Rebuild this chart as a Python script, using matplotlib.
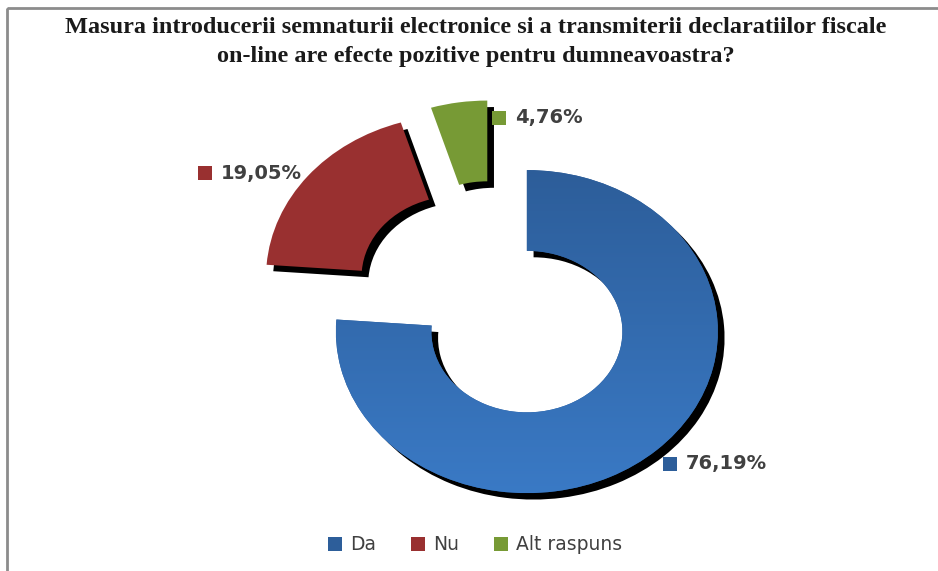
import numpy as np
import matplotlib.pyplot as plt
from matplotlib.colors import LinearSegmentedColormap
from matplotlib.patches import Rectangle

# data
categories = ['Da', 'Nu', 'Alt raspuns']
values = [76.19, 19.05, 4.76]
labels = ['76,19%', '19,05%', '4,76%']
colors = ['#2D5E9A', '#993030', '#779A35']
title = ('Masura introducerii semnaturii electronice si a transmiterii declaratiilor fiscale\n'
         'on-line are efecte pozitive pentru dumneavoastra?')

W, H = 938, 571
fig = plt.figure(figsize=(W / 100, H / 100), dpi=100)
ax = fig.add_axes([0, 0, 1, 1])

# pixel scale of one radius unit (chart is a bit squashed vertically)
ux, uy = 191.0, 161.5
c0x, c0y = 494.4, 302.0

def px(x, y):
    # pixel (from top-left) -> figure fraction
    return x / W, 1 - y / H

explode = [0.25] * 3
ring = dict(width=0.5, edgecolor='none')

# shadow
ax.pie(values, explode=explode, startangle=90, counterclock=False, center=(0.035, -0.04),
       colors=['black'] * 3, wedgeprops=ring)
wedges, _ = ax.pie(values, explode=explode, startangle=90, counterclock=False,
                   colors=colors, wedgeprops=ring)

ax.set_aspect('auto')
ax.axis('off')

# gradient on the blue ring
cmap = LinearSegmentedColormap.from_list('b', ['#2A5891', '#3C7ECC'])
grad = np.linspace(0, 1, 256).reshape(-1, 1)
img = ax.imshow(grad, cmap=cmap, extent=(-1.0, 2.0, -1.5, 1.2), origin='upper',
                aspect='auto', zorder=wedges[0].get_zorder() + 0.1)
img.set_clip_path(wedges[0])
ax.set_xlim(-c0x / ux, (W - c0x) / ux)
ax.set_ylim(-(H - c0y) / uy, c0y / uy)

# data labels (square key + value)
label_pos = [(670, 464), (205, 173), (499, 118)]
for (x, y), lab, col in zip(label_pos, labels, colors):
    fig.patches.append(Rectangle(px(x - 7, y + 7), 14 / W, 14 / H, transform=fig.transFigure,
                                 facecolor=col, edgecolor='none'))
    fig.text(*px(x + 16, y), lab, fontsize=14, fontweight='bold', color='#404040',
             va='center', ha='left')

fig.text(*px(476, 42), title, fontsize=17.5, fontweight='bold', family='Liberation Serif',
         color='#1a1a1a', ha='center', va='center', linespacing=1.55)

leg = fig.legend(wedges, categories, loc='center', bbox_to_anchor=px(475, 545), ncol=3,
                 frameon=False, fontsize=13.5, handlelength=0.75, handleheight=0.75,
                 handletextpad=0.45, columnspacing=1.85)
for t in leg.get_texts():
    t.set_color('#404040')

# chart frame (left and top visible)
fig.patches.append(Rectangle(px(6.5, 7.5), 1, -1, transform=fig.transFigure,
                             facecolor='none', edgecolor='#8c8c8c', linewidth=2, clip_on=False))

fig.savefig('out.png', dpi=100)
